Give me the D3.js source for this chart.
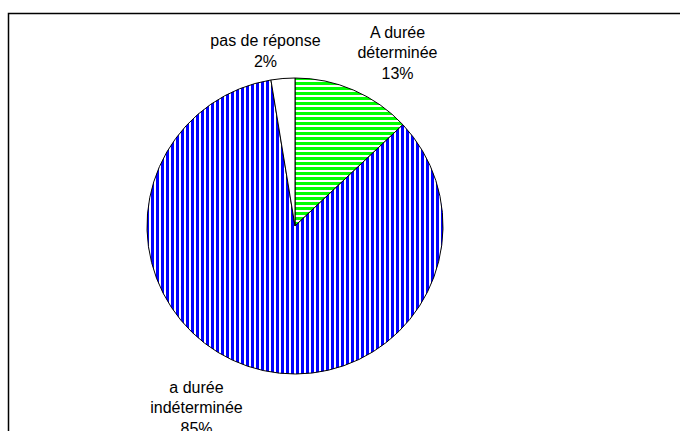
<!DOCTYPE html>
<html>
<head>
<meta charset="utf-8">
<script src="https://cdn.jsdelivr.net/npm/d3@7"></script>
<style>
  body { margin: 0; background: #fff; }
  text { font-family: "Liberation Sans", Arial, sans-serif; font-size: 16px; fill: #000; }
</style>
</head>
<body>
<div class="chart-container"></div>
<script>
// data
var categories = ["A durée déterminée", "a durée indéterminée", "pas de réponse"]
var values = [13, 84.4, 2.6]
var labelLines = [["A durée", "déterminée", "13%"], ["a durée", "indéterminée", "85%"], ["pas de réponse", "2%"]]
var fills = ["url(#greenStripes)", "url(#blueStripes)", "#fff"]

var width = 680, height = 431
var cx = 295, cy = 226, radius = 148

// where each label block sits (baseline of first line)
var labelPos = [[397.5, 37.5], [196.5, 392.5], [265.5, 46]]
var lineHeight = 20.5

var svg = d3.select(".chart-container").append("svg").attr("width", width).attr("height", height)

// patterns for the hatched slices
var defs = svg.append("defs")
var pb = defs.append("pattern").attr("id", "blueStripes").attr("patternUnits", "userSpaceOnUse")
  .attr("width", 5).attr("height", 5).attr("x", 1)
pb.append("rect").attr("width", 5).attr("height", 5).attr("fill", "#fff")
pb.append("rect").attr("width", 3).attr("height", 5).attr("fill", "#0000ff")

var pg = defs.append("pattern").attr("id", "greenStripes").attr("patternUnits", "userSpaceOnUse")
  .attr("width", 5).attr("height", 5).attr("y", 1)
pg.append("rect").attr("width", 5).attr("height", 5).attr("fill", "#fff")
pg.append("rect").attr("width", 5).attr("height", 3).attr("fill", "#00ff00")

// outer frame, runs off the right and bottom edge
svg.append("rect").attr("x", 8.5).attr("y", 13.5).attr("width", 800).attr("height", 600)
  .attr("fill", "none").attr("stroke", "#000").attr("stroke-width", 1.5)

var pie = d3.pie().sort(null).value(d => d)
var arc = d3.arc().innerRadius(0).outerRadius(radius)

var g = svg.append("g").attr("transform", "translate(" + cx + "," + cy + ")")
g.selectAll("path").data(pie(values)).enter()
  .append("path")
  .attr("d", arc)
  .attr("fill", (d, i) => fills[i])
  .attr("stroke", "#000")
  .attr("stroke-width", 1)
  .attr("stroke-linejoin", "round")

// labels
var labels = svg.selectAll("text.lbl").data(categories).enter()
  .append("text").attr("class", "lbl")
  .attr("text-anchor", "middle")
  .attr("x", (d, i) => labelPos[i][0])
  .attr("y", (d, i) => labelPos[i][1])

labels.each(function(d, i) {
  var t = d3.select(this)
  labelLines[i].forEach(function(line, j) {
    t.append("tspan").attr("x", labelPos[i][0]).attr("y", labelPos[i][1] + j * lineHeight).text(line)
  })
})
</script>
</body>
</html>
